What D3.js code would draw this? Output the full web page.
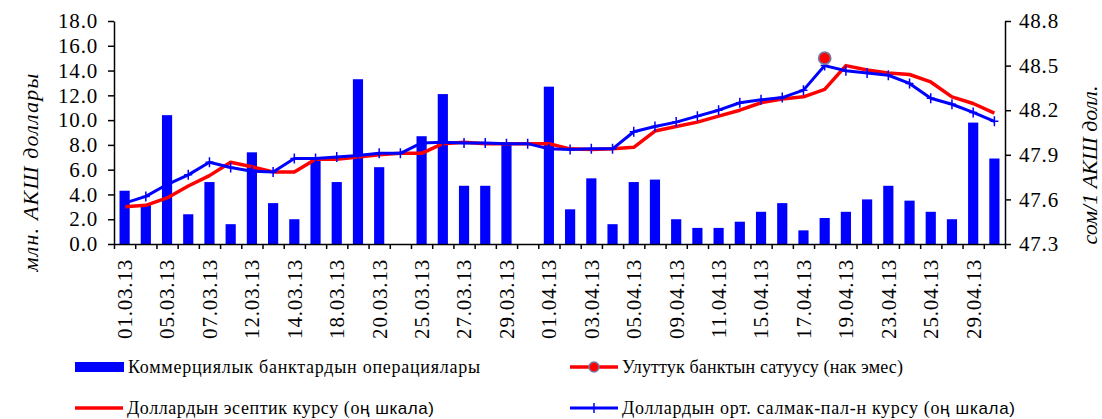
<!DOCTYPE html>
<html>
<head>
<meta charset="utf-8">
<script src="https://cdn.jsdelivr.net/npm/d3@7"></script>
</head>
<body style="margin:0; background:#fff">
<svg width="1102" height="419" style="display:block"></svg>
<script>
// trading days shown on the x axis (every other one gets a label)
var dates = ['01.03.13', '04.03.13', '05.03.13', '06.03.13', '07.03.13', '11.03.13', '12.03.13',
    '13.03.13', '14.03.13', '15.03.13', '18.03.13', '19.03.13', '20.03.13', '22.03.13',
    '25.03.13', '26.03.13', '27.03.13', '28.03.13', '29.03.13', '30.03.13', '01.04.13',
    '02.04.13', '03.04.13', '04.04.13', '05.04.13', '08.04.13', '09.04.13', '10.04.13',
    '11.04.13', '12.04.13', '15.04.13', '16.04.13', '17.04.13', '18.04.13', '19.04.13',
    '22.04.13', '23.04.13', '24.04.13', '25.04.13', '26.04.13', '29.04.13', '30.04.13'];

// commercial banks operations, mln USD (left axis)
var bankOps = [4.3, 3.2, 10.4, 2.4, 5.0, 1.6, 7.4, 3.3, 2.0, 6.8, 5.0, 13.3, 6.2, 0,
    8.7, 12.1, 4.7, 4.7, 8.1, 0, 12.7, 2.8, 5.3, 1.6, 5.0, 5.2, 2.0, 1.3,
    1.3, 1.8, 2.6, 3.3, 1.1, 2.1, 2.6, 3.6, 4.7, 3.5, 2.6, 2.0, 9.8, 6.9];

// national bank sales, mln USD (left axis), only one day
var nbSales = dates.map(function(d) { return d === '18.04.13' ? 15.0 : null; });

// official rate, som per USD (right axis)
var officialRate = [47.55, 47.56, 47.61, 47.69, 47.76, 47.85, 47.82, 47.785, 47.785, 47.87,
    47.87, 47.885, 47.90, 47.91, 47.91, 47.975, 47.985, 47.975, 47.975, 47.975, 47.975,
    47.94, 47.935, 47.94, 47.95, 48.06, 48.09, 48.12, 48.16, 48.20, 48.25, 48.275, 48.29,
    48.34, 48.50, 48.47, 48.45, 48.44, 48.39, 48.29, 48.245, 48.18];

// weighted average rate, som per USD (right axis)
var weightedRate = [47.575, 47.62, 47.70, 47.765, 47.85, 47.815, 47.79, 47.785, 47.875, 47.875,
    47.885, 47.895, 47.91, 47.91, 47.98, 47.985, 47.98, 47.98, 47.975, 47.975, 47.94,
    47.935, 47.94, 47.94, 48.055, 48.09, 48.12, 48.16, 48.20, 48.25, 48.27, 48.285, 48.335,
    48.50, 48.465, 48.45, 48.435, 48.38, 48.28, 48.24, 48.185, 48.125];

var leftTicks = [0, 2, 4, 6, 8, 10, 12, 14, 16, 18];
var rightTicks = [47.3, 47.6, 47.9, 48.2, 48.5, 48.8];

var legendLabels = ['Коммерциялык банктардын операциялары', 'Улуттук банктын сатуусу (нак эмес)',
    'Доллардын эсептик курсу (о', 'Доллардын орт. салмак-пал-н курсу (о'];
var legendTail = 'ң шкала)';

var serif = "'Liberation Serif'";
var sans = "'Liberation Sans'";

var svg = d3.select('svg');

var plot = {l: 114, r: 1005, t: 21, b: 244};

var x = d3.scaleBand()
    .domain(dates)
    .range([plot.l, plot.r])
    .paddingInner(0.52)
    .paddingOuter(0.26);

var xEdges = d3.scaleLinear()
    .domain([0, dates.length])
    .range([plot.l, plot.r]);

var yLeft = d3.scaleLinear()
    .domain([0, 18])
    .range([plot.b, plot.t]);

var yRight = d3.scaleLinear()
    .domain([47.3, 48.8])
    .range([plot.b, plot.t]);

function cx(d) { return x(d) + x.bandwidth() / 2; }

function styleTicks(sel) {
    sel.style('font-family', serif)
        .style('font-size', '21px')
        .style('letter-spacing', '0.8px')
        .attr('fill', '#000');
}

function styleAxis(g) {
    g.attr('font-family', null).attr('font-size', null);
    g.selectAll('path, line')
        .attr('stroke', '#000')
        .attr('stroke-width', 1.5);
}

// bars
svg.append('g')
    .selectAll('rect')
    .data(dates)
    .enter()
    .append('rect')
    .attr('x', function(d) { return x(d); })
    .attr('width', x.bandwidth())
    .attr('y', function(d, i) { return yLeft(bankOps[i]); })
    .attr('height', function(d, i) { return plot.b - yLeft(bankOps[i]); })
    .attr('fill', '#0000ff');

// both rate lines share the right axis
var rateLine = d3.line()
    .x(function(d, i) { return cx(dates[i]); })
    .y(function(d) { return yRight(d); });

svg.append('path')
    .datum(officialRate)
    .attr('d', rateLine)
    .attr('fill', 'none')
    .attr('stroke', '#ff0000')
    .attr('stroke-width', 3.5)
    .attr('stroke-linejoin', 'round');

svg.append('path')
    .datum(weightedRate)
    .attr('d', rateLine)
    .attr('fill', 'none')
    .attr('stroke', '#0000ff')
    .attr('stroke-width', 3)
    .attr('stroke-linejoin', 'round');

// + markers on weighted rate
svg.append('g')
    .selectAll('path')
    .data(weightedRate)
    .enter()
    .append('path')
    .attr('d', function(d, i) {
        var px = cx(dates[i]), py = yRight(d);
        return 'M' + (px - 4) + ',' + py + 'H' + (px + 4) + 'M' + px + ',' + (py - 5) + 'V' + (py + 5);
    })
    .attr('stroke', '#0000ff')
    .attr('stroke-width', 1.5);

// national bank sales point
svg.append('g')
    .selectAll('circle')
    .data(nbSales.map(function(v, i) { return {v: v, d: dates[i]}; }).filter(function(p) { return p.v !== null; }))
    .enter()
    .append('circle')
    .attr('cx', function(p) { return cx(p.d); })
    .attr('cy', function(p) { return yLeft(p.v); })
    .attr('r', 6)
    .attr('fill', '#ff0000')
    .attr('stroke', '#7878a0')
    .attr('stroke-width', 1.8);

// axes
var leftAxis = svg.append('g')
    .attr('transform', 'translate(' + plot.l + ',0)')
    .call(d3.axisLeft(yLeft).tickValues(leftTicks).tickFormat(d3.format('.1f')).tickSize(6).tickSizeOuter(0).tickPadding(10));
styleAxis(leftAxis);
styleTicks(leftAxis.selectAll('text'));

var rightAxis = svg.append('g')
    .attr('transform', 'translate(' + plot.r + ',0)')
    .call(d3.axisRight(yRight).tickValues(rightTicks).tickFormat(d3.format('.1f')).tickSize(6).tickSizeOuter(0).tickPadding(8));
styleAxis(rightAxis);
styleTicks(rightAxis.selectAll('text'));

var bottomAxis = svg.append('g')
    .attr('transform', 'translate(0,' + plot.b + ')')
    .call(d3.axisBottom(xEdges).tickValues(d3.range(dates.length + 1)).tickFormat('').tickSize(5).tickSizeOuter(0));
styleAxis(bottomAxis);

var xLabels = svg.append('g')
    .attr('transform', 'translate(0,' + plot.b + ')')
    .call(d3.axisBottom(x).tickValues(dates.filter(function(d, i) { return i % 2 === 0; })).tickSize(0));
xLabels.attr('font-family', null).attr('font-size', null);
xLabels.select('.domain').remove();
xLabels.selectAll('text')
    .attr('y', 0)
    .attr('x', -15)
    .attr('dy', '0.35em')
    .attr('transform', 'rotate(-90)')
    .style('text-anchor', 'end')
    .call(styleTicks);

// axis titles
svg.append('text')
    .attr('transform', 'translate(38,172) rotate(-90)')
    .attr('text-anchor', 'middle')
    .style('font-family', serif)
    .style('font-size', '22px')
    .style('letter-spacing', '1.2px')
    .style('font-style', 'italic')
    .text('млн. АКШ доллары');

svg.append('text')
    .attr('transform', 'translate(1097,165) rotate(-90)')
    .attr('text-anchor', 'middle')
    .style('font-family', serif)
    .style('font-size', '22px')
    .style('font-style', 'italic')
    .text('сом/1 АКШ долл.');

// legend
var legendItems = [
    {x: 75, y: 367, len: 352, tail: false},
    {x: 570, y: 367, len: 281, tail: false},
    {x: 75, y: 408, len: 307, tail: true},
    {x: 570, y: 408, len: 393, tail: true}
];

var legend = svg.selectAll('.legendItem')
    .data(legendItems)
    .enter()
    .append('g')
    .attr('class', 'legendItem')
    .attr('transform', function(d) { return 'translate(' + [d.x, d.y] + ')'; });

legend.each(function(d, i) {
    var g = d3.select(this);
    if (i === 0) {
        g.append('rect').attr('x', 0).attr('y', -5).attr('width', 49).attr('height', 10).attr('fill', '#0000ff');
    } else {
        g.append('line').attr('x1', 0).attr('x2', 48).attr('y1', 0).attr('y2', 0)
            .attr('stroke', i === 3 ? '#0000ff' : '#ff0000')
            .attr('stroke-width', i === 3 ? 3 : 3.5);
    }
    if (i === 1) {
        g.append('circle').attr('cx', 24).attr('cy', 0).attr('r', 5)
            .attr('fill', '#ff0000').attr('stroke', '#7878a0').attr('stroke-width', 1.5);
    }
    if (i === 3) {
        g.append('path').attr('d', 'M24,-5V5').attr('stroke', '#0000ff').attr('stroke-width', 1.5);
    }
    var t = g.append('text')
        .attr('x', i === 0 ? 53 : 52)
        .attr('y', 6)
        .attr('textLength', d.len)
        .style('font-family', serif)
        .style('font-size', '18px')
        .text(legendLabels[i]);
    if (d.tail) {
        t.append('tspan')
            .style('font-family', sans)
            .style('font-size', '17px')
            .text(legendTail);
    }
});
</script>
</body>
</html>
